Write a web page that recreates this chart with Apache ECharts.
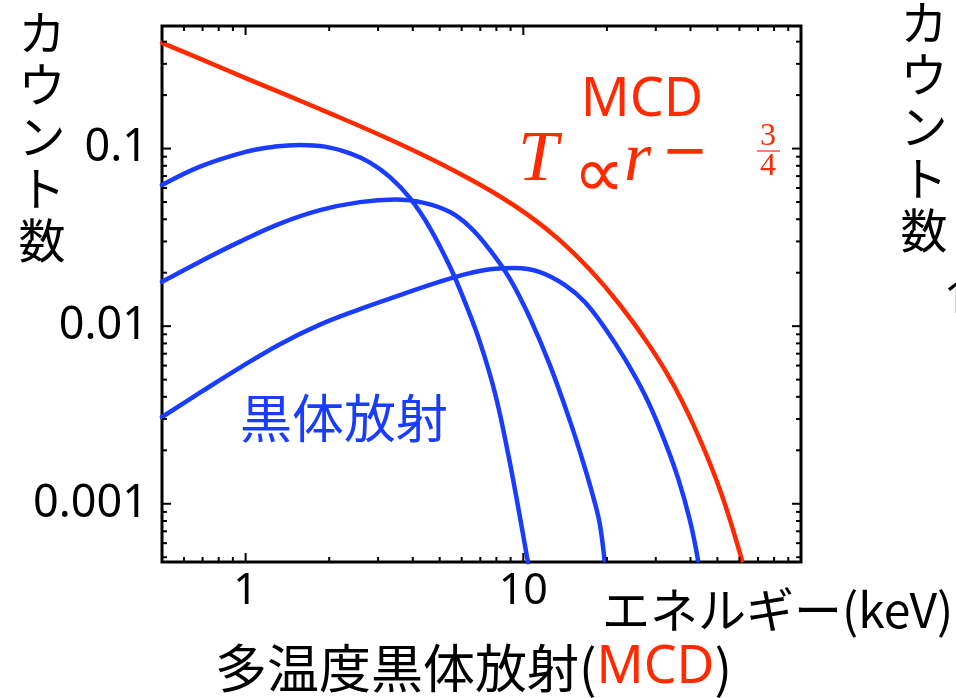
<!DOCTYPE html>
<html>
<head>
<meta charset="utf-8">
<script src="https://cdn.jsdelivr.net/npm/echarts@6/dist/echarts.min.js"></script>
<style>
  html, body { margin: 0; padding: 0; background: #ffffff; }
  #chart { width: 956px; height: 698px; }
</style>
</head>
<body>
<div id="chart"></div>
<script>
// Multi-colour disk (MCD) spectrum, energy in keV vs counts
const mcdEnergy = [0.5, 0.708, 1.0, 1.421, 2.014, 2.852, 4.044, 5.73, 8.11, 10.57, 13.55, 17.39, 22.3, 28.6, 35.2, 43.2, 51.9, 61.3];
const mcdCounts = [0.394, 0.314, 0.2495, 0.1986, 0.1578, 0.1248, 0.0972, 0.0740, 0.0546, 0.0415, 0.0304, 0.02076, 0.01316, 0.00769, 0.0045, 0.002314, 0.001118, 0.00048];

// Single-temperature blackbody spectra (low, middle, high temperature)
const bb1Energy = [0.5, 0.685, 1.0, 1.276, 1.570, 1.932, 2.377, 2.806, 3.311, 3.908, 4.612, 5.445, 6.166, 6.98, 7.91, 8.81, 9.57, 10.40];
const bb1Counts = [0.0623, 0.0792, 0.0959, 0.1026, 0.1049, 0.1026, 0.0940, 0.0834, 0.0691, 0.0526, 0.0357, 0.0216, 0.01365, 0.00813, 0.00419, 0.001925, 0.000968, 0.000465];

const bb2Energy = [0.5, 0.685, 0.9546, 1.330, 1.853, 2.582, 3.451, 4.426, 5.445, 6.43, 7.59, 8.96, 10.57, 12.47, 14.73, 16.68, 18.12, 18.89, 19.61];
const bb2Counts = [0.01777, 0.02309, 0.02992, 0.0378, 0.04501, 0.04994, 0.05161, 0.04932, 0.04388, 0.03612, 0.0268, 0.0184, 0.0111, 0.00603, 0.00292, 0.001585, 0.001006, 0.000757, 0.00048];

const bb3Energy = [0.5, 0.685, 0.9546, 1.330, 1.853, 2.582, 3.597, 5.01, 6.43, 7.91, 9.33, 11.48, 14.13, 16.68, 19.69, 23.25, 27.43, 31.6, 36.1, 39.8, 42.6];
const bb3Counts = [0.00308, 0.00422, 0.00584, 0.00792, 0.0102, 0.01247, 0.01495, 0.01781, 0.01989, 0.02108, 0.02123, 0.02014, 0.01702, 0.01365, 0.00974, 0.00652, 0.00408, 0.00246, 0.00139, 0.000807, 0.00048];

// Axis ticks and labels
const xMajorTicks = [1, 10];
const xTickLabels = ['1', '10'];
const xMinorTicks = [0.6, 0.7, 0.8, 0.9, 2, 3, 4, 5, 6, 7, 8, 9, 20, 30, 40, 50, 60, 70, 80, 90];
const yMajorTicks = [0.001, 0.01, 0.1];
const yTickLabels = ['0.001', '0.01', '0.1'];
const yMinorTicks = [0.0005, 0.0006, 0.0007, 0.0008, 0.0009,
  0.002, 0.003, 0.004, 0.005, 0.006, 0.007, 0.008, 0.009,
  0.02, 0.03, 0.04, 0.05, 0.06, 0.07, 0.08, 0.09,
  0.2, 0.3, 0.4];

const RED = '#ff2a00';
const BLUE = '#1a3cff';
const FONT = "'Noto Sans', 'Noto Sans CJK JP', sans-serif";
const JP = "'Noto Sans CJK JP', 'Noto Sans', sans-serif";
const SERIF = "'Liberation Serif', 'DejaVu Serif', serif";

const pairs = (xs, ys) => xs.map((x, i) => [x, ys[i]]);

function labelFor(values, labels) {
  return function (v) {
    for (let i = 0; i < values.length; i++) {
      if (Math.abs(Math.log10(v) - Math.log10(values[i])) < 1e-6) return labels[i];
    }
    return '';
  };
}

// Inward ticks mirrored on both sides of the frame
function tickSeries(values, axis, len) {
  return {
    type: 'custom',
    silent: true,
    clip: false,
    z: 10,
    data: values.map(v => axis === 'x' ? [v, 0.01] : [1, v]),
    renderItem: function (params, api) {
      const cs = params.coordSys;
      const p = api.coord([api.value(0), api.value(1)]);
      const st = { stroke: '#000', lineWidth: 2 };
      if (axis === 'x') {
        const b = cs.y + cs.height, t = cs.y;
        return { type: 'group', children: [
          { type: 'line', shape: { x1: p[0], y1: b, x2: p[0], y2: b - len }, style: st },
          { type: 'line', shape: { x1: p[0], y1: t, x2: p[0], y2: t + len }, style: st }
        ] };
      }
      const l = cs.x, r = cs.x + cs.width;
      return { type: 'group', children: [
        { type: 'line', shape: { x1: l, y1: p[1], x2: l + len, y2: p[1] }, style: st },
        { type: 'line', shape: { x1: r, y1: p[1], x2: r - len, y2: p[1] }, style: st }
      ] };
    }
  };
}

function curve(xs, ys, color) {
  return {
    type: 'line',
    data: pairs(xs, ys),
    showSymbol: false,
    smooth: 0.4,
    lineStyle: { color: color, width: 4.5, cap: 'round', join: 'round' },
    itemStyle: { color: color },
    z: 3
  };
}

const chart = echarts.init(document.getElementById('chart'), null, { renderer: 'canvas' });

chart.setOption({
  animation: false,
  backgroundColor: '#ffffff',
  grid: {
    left: 162, top: 26, width: 639, height: 536,
    show: true, borderColor: '#000', borderWidth: 3, backgroundColor: 'transparent',
    containLabel: false
  },
  xAxis: {
    type: 'log', logBase: 10, min: 0.5, max: 100,
    axisLine: { show: false },
    axisTick: { show: false },
    splitLine: { show: false },
    minorTick: { show: false },
    axisLabel: {
      formatter: labelFor(xMajorTicks, xTickLabels),
      color: '#000', fontSize: 43, fontFamily: FONT, margin: 8,
      showMinLabel: true, showMaxLabel: true, hideOverlap: false
    }
  },
  yAxis: {
    type: 'log', logBase: 10, min: 0.00047, max: 0.49,
    axisLine: { show: false },
    axisTick: { show: false },
    splitLine: { show: false },
    minorTick: { show: false },
    axisLabel: {
      formatter: labelFor(yMajorTicks, yTickLabels),
      color: '#000', fontSize: 45, fontFamily: FONT, margin: 14,
      showMinLabel: true, showMaxLabel: true, hideOverlap: false
    }
  },
  series: [
    curve(bb1Energy, bb1Counts, BLUE),
    curve(bb2Energy, bb2Counts, BLUE),
    curve(bb3Energy, bb3Counts, BLUE),
    curve(mcdEnergy, mcdCounts, RED),
    tickSeries(xMajorTicks, 'x', 9),
    tickSeries(xMinorTicks, 'x', 5),
    tickSeries(yMajorTicks, 'y', 9),
    tickSeries(yMinorTicks, 'y', 5)
  ],
  graphic: [
    // vertical axis title (left panel)
    { type: 'text', x: 42, y: 6, style: {
        text: 'カ\nウ\nン\nト\n数', fill: '#000', font: '47px ' + JP,
        lineHeight: 52, align: 'center', verticalAlign: 'top' } },
    // edge of the neighbouring panel
    { type: 'text', x: 924, y: -4, style: {
        text: 'カ\nウ\nン\nト\n数', fill: '#000', font: '47px ' + JP,
        lineHeight: 52, align: 'center', verticalAlign: 'top' } },
    { type: 'text', x: 944, y: 300, style: {
        text: '1', fill: '#000', font: '44px ' + FONT, align: 'left', verticalAlign: 'middle' } },
    // horizontal axis title
    { type: 'text', x: 602, y: 610, style: {
        text: 'エネルギー(keV)', fill: '#000', font: '48px ' + JP, align: 'left', verticalAlign: 'middle' } },
    // caption
    { type: 'text', x: 215, y: 668, style: {
        text: '{a|多温度黒体放射(}{b|MCD}{a|)}', align: 'left', verticalAlign: 'middle',
        rich: {
          a: { fill: '#000', fontSize: 52, fontFamily: JP },
          b: { fill: RED, fontSize: 52, fontFamily: FONT }
        } } },
    // annotations
    { type: 'text', x: 642, y: 101, style: {
        text: 'MCD', fill: RED, font: '54px ' + FONT, align: 'center', verticalAlign: 'middle' } },
    { type: 'text', x: 344, y: 418, style: {
        text: '黒体放射', fill: BLUE, font: '52px ' + JP, align: 'center', verticalAlign: 'middle' } },
    { type: 'text', x: 518, y: 197, style: {
        text: 'T', fill: RED, font: 'italic 72px ' + SERIF, align: 'left', verticalAlign: 'bottom' } },
    { type: 'text', x: 599, y: 178, style: {
        text: '∝', fill: RED, font: "72px 'DejaVu Sans', sans-serif", align: 'center', verticalAlign: 'middle' } },
    { type: 'text', x: 624, y: 197, style: {
        text: 'r', fill: RED, font: 'italic 70px ' + SERIF, align: 'left', verticalAlign: 'bottom' } },
    { type: 'text', x: 685, y: 154, style: {
        text: '−', fill: RED, font: "56px 'DejaVu Sans', sans-serif", align: 'center', verticalAlign: 'middle' } },
    { type: 'text', x: 768, y: 137, style: {
        text: '3', fill: RED, font: '32px ' + SERIF, align: 'center', verticalAlign: 'middle' } },
    { type: 'line', shape: { x1: 757, y1: 151, x2: 780, y2: 151 }, style: { stroke: RED, lineWidth: 1.2 } },
    { type: 'text', x: 768, y: 167, style: {
        text: '4', fill: RED, font: '32px ' + SERIF, align: 'center', verticalAlign: 'middle' } }
  ]
});
</script>
</body>
</html>
